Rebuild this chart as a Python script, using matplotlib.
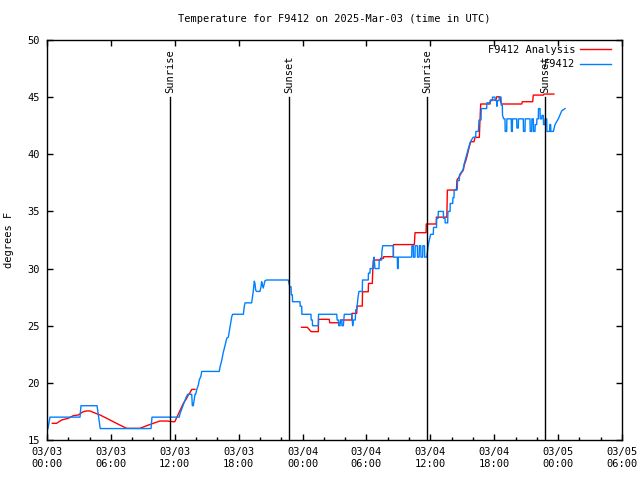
import matplotlib
matplotlib.use('Agg')
import matplotlib.pyplot as plt
from matplotlib.ticker import MultipleLocator
import numpy as np

# hours since 2025-03-03 00:00 UTC
blue_h = [0.09,0.28,3.10,3.19,4.70,4.85,5.0,9.77,9.86,12.42,12.49,12.65,12.80,13.05,13.21,13.59,13.65,13.74,13.90,13.96,14.06,14.21,14.30,14.46,14.53,16.18,16.25,16.34,16.46,16.56,16.65,16.78,16.88,17.03,17.19,17.35,17.44,18.44,18.53,18.60,19.22,19.28,19.37,19.47,19.53,19.60,19.69,20.00,20.10,20.16,20.22,20.31,20.41,20.47,20.63,22.66,22.73,22.80,22.92,22.94,23.04,23.06,23.76,23.78,23.92,23.94,24.79,24.81,24.92,24.94,25.48,25.50,27.21,27.25,27.36,27.40,27.52,27.55,27.68,27.70,27.83,27.92,28.62,28.67,28.71,28.77,28.95,29.0,29.09,29.21,29.30,29.61,29.63,30.17,30.19,30.33,30.35,30.64,30.66,30.72,30.80,31.18,31.20,31.43,31.45,31.53,32.52,32.54,32.90,32.92,32.97,32.99,34.25,34.27,34.40,34.42,34.56,34.58,34.78,34.80,34.95,34.97,35.10,35.12,35.28,35.30,35.45,35.47,35.66,35.80,35.90,36.04,36.28,36.30,36.58,36.60,36.73,36.75,37.22,37.24,37.38,37.40,37.63,37.65,37.85,37.87,38.10,38.12,38.22,38.24,38.53,38.55,38.72,38.74,38.95,39.05,39.19,39.42,39.57,39.73,39.89,40.04,40.26,40.28,40.51,40.57,40.76,40.78,41.29,41.31,41.60,41.62,41.82,41.84,42.07,42.09,42.23,42.25,42.29,42.45,42.47,42.64,42.66,42.76,42.78,42.90,43.01,43.03,43.17,43.19,43.6,43.62,43.7,43.72,44.11,44.13,44.26,44.28,44.73,44.75,44.89,44.91,45.36,45.38,45.52,45.54,45.67,45.69,45.83,45.85,45.99,46.01,46.14,46.16,46.30,46.32,46.46,46.48,46.61,46.63,46.77,46.79,46.93,46.95,47.2,47.22,47.3,47.32,47.55,47.71,48.02,48.34,48.65]
blue_t = [16,17,17,18,18,17,16,16,17,17,17.3,17.7,18.1,18.7,19.0,19.0,18.0,18.0,19.0,19.0,19.4,19.8,20.25,20.6,21.0,21.0,21.4,21.7,22.2,22.7,23.0,23.5,23.9,24.0,24.9,25.8,26.0,26.0,26.7,27.0,27.0,27.4,28.0,28.9,28.7,28.1,28.0,28.0,28.4,28.85,28.6,28.3,28.7,28.94,29.0,29.0,28.7,28.4,28.4,27.7,27.7,27.1,27.1,26.7,26.7,26.0,26.0,25.5,25.5,25.0,25.0,26.0,26.0,25.5,25.5,25.0,25.0,25.5,25.5,25.0,25.0,26.0,26.0,25.5,25.0,25.5,25.5,26.4,26.4,27.5,28.0,28.0,29.0,29.0,29.6,29.6,30.0,30.0,30.6,31.0,30.0,30.0,30.75,30.75,31.5,32.0,32.0,31.0,31.0,30.0,30.0,31.0,31.0,32.0,32.0,31.0,31.0,32.0,32.0,31.0,31.0,32.0,32.0,31.0,31.0,32.0,32.0,31.0,31.0,32.0,32.5,33.0,33.0,33.6,33.6,34.4,34.4,35.0,35.0,34.4,34.4,34.0,34.0,35.0,35.0,35.7,35.7,36.2,36.2,36.9,36.9,37.7,37.7,38.2,38.5,38.6,39.2,40.0,40.5,41.0,41.3,41.5,41.5,42.0,42.0,43.0,43.0,44.0,44.0,44.5,44.5,44.7,44.7,45.0,45.0,44.7,44.7,44.2,44.7,44.7,45.0,45.0,44.3,44.3,43.4,43.1,43.1,42.0,42.0,43.1,43.1,42.0,42.0,43.1,43.1,42.3,42.3,43.1,43.1,42.0,42.0,43.1,43.1,42.0,42.0,43.1,43.1,42.0,42.0,42.6,42.6,43.1,43.1,44.0,44.0,43.1,43.1,43.4,43.4,42.6,42.6,43.1,43.1,42.0,42.0,42.6,42.6,42.0,42.0,42.6,43.1,43.8,44.0]

red1_h = [0.5,0.9,1.38,2.0,2.47,2.94,3.41,3.72,4.04,4.35,4.98,5.6,6.23,6.86,7.48,8.26,8.73,9.36,9.98,10.6,11.24,11.86,12.0,12.5,12.8,13.12,13.27,13.43,13.59,13.9]
red1_t = [16.46,16.46,16.75,16.9,17.13,17.19,17.48,17.54,17.54,17.42,17.19,16.9,16.6,16.3,16.02,16.02,16.02,16.25,16.46,16.66,16.66,16.6,16.6,17.6,18.2,18.65,18.94,19.14,19.43,19.43]

red2_h = [23.9,24.45,24.6,24.8,25.48,25.50,26.5,26.55,27.58,27.6,28.62,28.64,29.09,29.11,29.61,29.63,30.17,30.19,30.55,30.6,30.65,31.3,31.32,31.6,31.62,32.52,32.54,34.5,34.56,35.6,35.62,36.55,36.57,37.55,37.6,38.45,38.5,38.72,38.88,39.1,39.19,39.35,39.47,39.66,39.79,40.1,40.2,40.6,40.66,40.73,41.6,41.66,42.16,42.23,42.54,42.6,42.7,44.58,44.64,45.61,45.67,46.61,46.67,47.6]
red2_t = [24.86,24.86,24.7,24.48,24.48,25.56,25.56,25.26,25.26,25.5,25.5,26.08,26.08,26.72,26.72,27.97,27.97,28.7,28.7,30.0,30.75,30.75,30.9,30.9,31.04,31.04,32.1,32.1,33.14,33.14,33.9,33.9,34.5,34.5,36.87,36.87,37.75,38.04,38.33,38.62,39.06,39.5,39.93,40.66,41.1,41.1,41.48,41.48,42.9,44.4,44.4,44.75,44.75,45.03,45.03,44.6,44.4,44.4,44.6,44.6,45.18,45.18,45.27,45.27]

sun_h = [11.55, 22.73, 35.69, 46.77]
sun_labels = ['Sunrise', 'Sunset', 'Sunrise', 'Sunset']

xtick_h = [0, 6, 12, 18, 24, 30, 36, 42, 48, 54]
xtick_labels = ['03/03\n00:00', '03/03\n06:00', '03/03\n12:00', '03/03\n18:00',
                '03/04\n00:00', '03/04\n06:00', '03/04\n12:00', '03/04\n18:00',
                '03/05\n00:00', '03/05\n06:00']

FS = 7.5
plt.rcParams['font.family'] = ['DejaVu Sans Mono']

fig = plt.figure(figsize=(6.4, 4.8), dpi=100)
ax = fig.add_axes([47/640, 40/480, 575/640, 400/480])

red_h = red1_h + [np.nan] + red2_h
red_t = red1_t + [np.nan] + red2_t
ax.plot(red_h, red_t, color='#ff0000', lw=1.0, label='F9412 Analysis')
ax.plot(blue_h, blue_t, color='#0080ff', lw=1.0, label='F9412')

for h, lab in zip(sun_h, sun_labels):
    ax.plot([h, h], [15, 45], color='black', lw=1.0)
    ax.text(h, 45.35, lab, rotation=90, ha='center', va='bottom', fontsize=FS)

ax.set_xlim(0, 54)
ax.set_ylim(15, 50)
ax.set_xticks(xtick_h)
ax.set_xticklabels(xtick_labels, fontsize=FS)
ax.xaxis.set_minor_locator(MultipleLocator(2))
ax.set_yticks(np.arange(15, 51, 5))
ax.tick_params(axis='y', labelsize=FS)
ax.tick_params(which='major', direction='in', length=4, width=1, top=True, right=True, pad=5)
ax.tick_params(which='minor', direction='in', length=2, width=1, top=False, right=False)
for s in ax.spines.values():
    s.set_linewidth(1.0)

ax.set_title('Temperature for F9412 on 2025-Mar-03 (time in UTC)', fontsize=FS, pad=13)
ax.set_ylabel('degrees F', fontsize=FS, labelpad=10)

ax.legend(loc='upper right', bbox_to_anchor=(0.98, 0.988), frameon=False, markerfirst=False,
          fontsize=FS, handlelength=2.9, handletextpad=0.5, labelspacing=0.45,
          borderpad=0, borderaxespad=0)

fig.savefig('out.png', dpi=100)
